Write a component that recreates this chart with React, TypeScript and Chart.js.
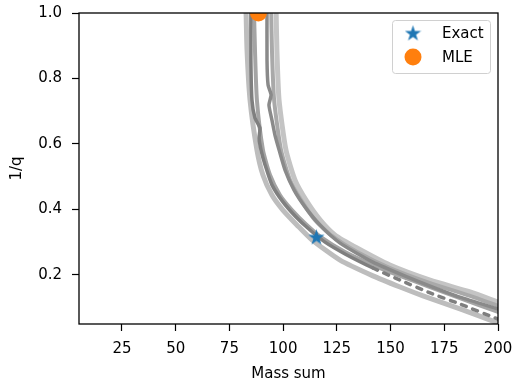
import React, { useEffect, useRef } from "react";
import { Chart, registerables } from "chart.js";
Chart.register(...registerables);

const FONT = "'DejaVu Sans', sans-serif";
const X_MIN = 5;
const X_MAX = 200;
const Y_MIN = 0.05;
const Y_MAX = 1.0;
const xTickValues = [25, 50, 75, 100, 125, 150, 175, 200];
const yTickValues = [0.2, 0.4, 0.6, 0.8, 1.0];

const exactPoint = [{ x: 115.5, y: 0.316 }];
const mlePoint = [{ x: 88.5, y: 1.0 }];

// contour lines (mass sum, 1/q)
const lineBLight = [[96.7,1.02],[97.1,0.887],[98.1,0.734],[101.3,0.582],[105.5,0.490],[110.6,0.429],[117.2,0.368],[124.1,0.322],[134.4,0.282],[149.7,0.230],[168.4,0.184],[187.0,0.148],[200,0.117]];
const lineBMid = [[94.4,1.02],[94.8,0.887],[95.8,0.734],[99.0,0.582],[103.2,0.490],[108.3,0.429],[114.8,0.368],[122.7,0.319],[134.4,0.270],[149.7,0.221],[168.4,0.175],[187.0,0.136],[200,0.105]];
const lineBDark = [[92.5,1.02],[92.5,0.856],[93.0,0.780],[94.4,0.750],[93.4,0.719],[94.8,0.673],[96.2,0.627],[98.1,0.582],[100.9,0.520],[105.1,0.459],[110.6,0.404],[117.2,0.352],[126.5,0.297],[141.8,0.239],[157.6,0.194],[168.4,0.166],[182.3,0.132],[200,0.096]];
const lineALight = [[82.7,1.02],[83.2,0.887],[84.6,0.734],[87.8,0.582],[90.6,0.505],[94.8,0.444],[99.9,0.398],[106.5,0.352],[113.4,0.307],[126.5,0.245],[141.8,0.197],[154.4,0.163],[165.1,0.136],[182.3,0.096],[200,0.053]];
const lineAMid = [[86.4,1.02],[86.9,0.887],[87.8,0.734],[90.6,0.582],[93.9,0.505],[98.5,0.444],[104.1,0.398],[110.6,0.355],[118.1,0.313],[128.8,0.270],[141.8,0.230],[154.4,0.197],[168.4,0.163],[182.3,0.129],[200,0.087]];
const lineADark = [[85.0,1.02],[85.0,0.856],[85.5,0.734],[86.9,0.679],[89.2,0.649],[88.8,0.618],[89.7,0.582],[91.6,0.536],[94.8,0.475],[99.9,0.423],[106.0,0.377],[112.5,0.337],[119.5,0.300],[128.8,0.264],[141.8,0.221],[154.4,0.184],[168.4,0.145],[182.3,0.111],[200,0.065]];
const DASH_FROM = 141;

const toXY = (arr: number[][]) => arr.map(([x, y]) => ({ x, y }));

function makeStar(size: number, color: string) {
  const c = document.createElement("canvas");
  c.width = size;
  c.height = size;
  const ctx = c.getContext("2d")!;
  const cx = size / 2;
  const cy = size / 2 + size * 0.04;
  const R = size / 2;
  const r = R * 0.382;
  ctx.beginPath();
  for (let i = 0; i < 10; i++) {
    const ang = -Math.PI / 2 + (i * Math.PI) / 5;
    const rad = i % 2 === 0 ? R : r;
    const px = cx + rad * Math.cos(ang);
    const py = cy + rad * Math.sin(ang);
    if (i === 0) ctx.moveTo(px, py);
    else ctx.lineTo(px, py);
  }
  ctx.closePath();
  ctx.fillStyle = color;
  ctx.fill();
  return c;
}

export default function App() {
  const ref = useRef<HTMLCanvasElement>(null);
  useEffect(() => {
    document.body.style.margin = "0";
    const star = makeStar(17, "#1f77b4");
    const lineDs = (data: number[][], color: string, width: number, extra: any = {}) => ({
      type: "scatter" as const,
      data: toXY(data),
      showLine: true,
      borderColor: color,
      borderWidth: width,
      pointRadius: 0,
      tension: 0.2,
      clip: 0,
      borderCapStyle: "round",
      borderJoinStyle: "round",
      ...extra,
    });
    const boxPlugin = {
      id: "axisBox",
      afterDatasetsDraw(chart: any) {
        const { ctx, chartArea: a } = chart;
        ctx.save();
        ctx.strokeStyle = "#000";
        ctx.lineWidth = 1.3;
        ctx.strokeRect(a.left, a.top, a.right - a.left, a.bottom - a.top);
        ctx.restore();
      },
    };
    const legendPlugin = {
      id: "boxLegend",
      afterDraw(chart: any) {
        const { ctx, chartArea: a } = chart;
        const w = 98, h = 53;
        const left = a.right - 8 - w;
        const top = a.top + 7;
        ctx.save();
        ctx.beginPath();
        (ctx as any).roundRect(left + 0.5, top + 0.5, w, h, 3);
        ctx.fillStyle = "rgba(255,255,255,0.8)";
        ctx.fill();
        ctx.strokeStyle = "#d0d0d0";
        ctx.lineWidth = 1;
        ctx.stroke();
        const mx = left + 21;
        const tx = left + 50;
        const r1 = top + 13;
        const r2 = top + 37;
        ctx.drawImage(star, mx - star.width / 2, r1 - star.height / 2);
        ctx.beginPath();
        ctx.arc(mx, r2, 8.5, 0, Math.PI * 2);
        ctx.fillStyle = "#ff7f0e";
        ctx.fill();
        ctx.fillStyle = "#000";
        ctx.font = `15px ${FONT}`;
        ctx.textBaseline = "middle";
        ctx.textAlign = "left";
        ctx.fillText("Exact", tx, r1 + 1);
        ctx.fillText("MLE", tx, r2 + 1);
        ctx.restore();
      },
    };
    const tickFont = { family: FONT, size: 15 };
    const chart = new Chart(ref.current!, {
      type: "scatter",
      data: {
        datasets: [
          { label: "Exact", data: exactPoint, pointStyle: star as any, pointRadius: 8, backgroundColor: "#1f77b4", borderWidth: 0, clip: 0 } as any,
          { label: "MLE", data: mlePoint, pointStyle: "circle", pointRadius: 8.5, backgroundColor: "#ff7f0e", borderWidth: 0, clip: 0 } as any,
          lineDs(lineADark, "#7f7f7f", 3.5, {
            segment: { borderDash: (c: any) => (c.p0.parsed.x >= DASH_FROM ? [5, 7] : undefined) },
          }),
          lineDs(lineBDark, "#8a8a8a", 3.5),
          lineDs(lineAMid, "#a4a4a4", 4),
          lineDs(lineBMid, "#a9a9a9", 4),
          lineDs(lineALight, "#bdbdbd", 5),
          lineDs(lineBLight, "#c4c4c4", 5),
        ],
      },
      options: {
        animation: false,
        responsive: false,
        layout: { padding: { left: 0, right: 0, top: 13, bottom: 0 } },
        plugins: { legend: { display: false }, tooltip: { enabled: false } },
        scales: {
          x: {
            type: "linear",
            min: X_MIN,
            max: X_MAX,
            afterBuildTicks: (s: any) => {
              s.ticks = xTickValues.map((v) => ({ value: v }));
            },
            afterFit: (s: any) => {
              s.height = 62;
              s.paddingRight = 16;
              s.paddingLeft = 0;
            },
            grid: { display: true, drawOnChartArea: false, drawTicks: true, tickLength: 7, tickColor: "#000", tickWidth: 1.2 },
            border: { display: false },
            ticks: { color: "#000", font: tickFont, padding: 9, maxRotation: 0, autoSkip: false, callback: (v: any) => String(v) },
            title: { display: true, text: "Mass sum", color: "#000", font: tickFont, padding: { top: 0, bottom: 3 } },
          },
          y: {
            type: "linear",
            min: Y_MIN,
            max: Y_MAX,
            afterBuildTicks: (s: any) => {
              s.ticks = yTickValues.map((v) => ({ value: v }));
            },
            afterFit: (s: any) => {
              s.width = 79;
              s.paddingTop = 0;
              s.paddingBottom = 0;
            },
            grid: { display: true, drawOnChartArea: false, drawTicks: true, tickLength: 7, tickColor: "#000", tickWidth: 1.2 },
            border: { display: false },
            ticks: { color: "#000", font: tickFont, padding: 10, autoSkip: false, callback: (v: any) => Number(v).toFixed(1) },
            title: { display: true, text: "1/q", color: "#000", font: tickFont, padding: { top: 8, bottom: 0 } },
          },
        },
      },
      plugins: [boxPlugin, legendPlugin],
    } as any);
    return () => chart.destroy();
  }, []);
  return (
    <div style={{ position: "absolute", left: 0, top: 0, width: 514, height: 386 }}>
      <canvas ref={ref} width={514} height={386} style={{ width: 514, height: 386 }} />
    </div>
  );
}
